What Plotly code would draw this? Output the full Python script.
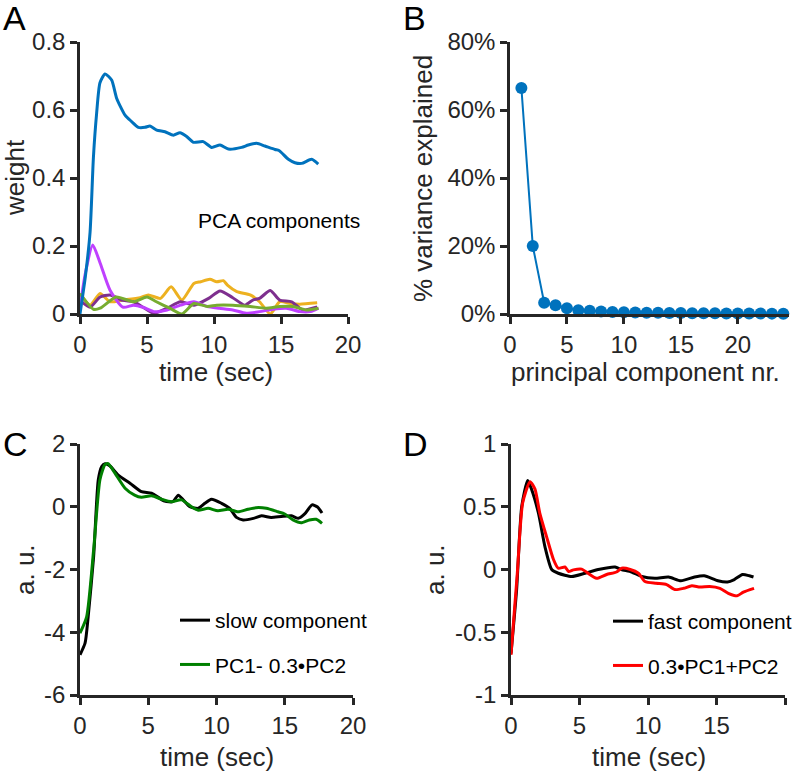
import plotly.graph_objects as go

# ---------------- Panel A: PCA component weights ----------------
a_t_blue = [0, 0.4, 0.75, 1.0, 1.24, 1.49, 1.87, 2.36, 2.74, 3.36, 3.85, 4.35, 4.85, 5.22, 5.72, 6.34,
            6.97, 7.46, 7.96, 8.46, 9.2, 9.83, 10.45, 11.07, 12.06, 12.56, 13.18, 13.8, 14.55, 14.85,
            15.55, 16.04, 16.54, 17.29, 17.78]
a_w_blue = [0, 0.11, 0.24, 0.46, 0.59, 0.68, 0.706, 0.688, 0.634, 0.585, 0.566, 0.549, 0.549, 0.553, 0.541, 0.536,
            0.526, 0.533, 0.522, 0.505, 0.507, 0.49, 0.497, 0.485, 0.49, 0.497, 0.502, 0.494, 0.484, 0.481,
            0.455, 0.445, 0.443, 0.455, 0.441]

a_t_mag = [0, 0.4, 0.95, 1.5, 2.24, 3.2, 4.0, 4.7, 5.5, 6.5, 7.5, 8.5, 9.5, 10.4, 11.4, 12.4, 13.4, 14.4, 15.4, 16.4, 17.2, 17.8]
a_w_mag = [0.02, 0.12, 0.203, 0.15, 0.07, 0.02, 0.026, 0.02, 0.007, 0.012, 0.026, 0.036, 0.022, 0.017, 0.012, 0.002,
           0.007, 0.014, 0.017, 0.007, 0.007, 0.017]

a_t_orange = [0, 0.75, 1.5, 2.24, 3.2, 4.5, 5.1, 6.0, 6.8, 7.6, 8.5, 9.0, 9.7, 10.2, 10.7, 11.0, 11.7, 12.7, 13.4,
              14.2, 14.9, 15.7, 16.4, 17.7]
a_w_orange = [0.06, 0.026, 0.06, 0.036, 0.041, 0.048, 0.056, 0.046, 0.08, 0.041, 0.09, 0.095, 0.102, 0.095, 0.098,
              0.085, 0.066, 0.056, 0.036, 0.0, 0.036, 0.031, 0.029, 0.033]

a_t_purple = [0, 0.75, 1.5, 2.24, 3.2, 4.0, 4.7, 5.5, 6.5, 7.5, 8.5, 9.6, 10.45, 11.4, 12.3, 12.9, 13.4, 14.2, 14.9,
              15.8, 16.6, 17.7]
a_w_purple = [0.04, 0.02, 0.05, 0.056, 0.04, 0.036, 0.02, 0.002, 0.017, 0.036, 0.026, 0.046, 0.068, 0.048, 0.026,
              0.041, 0.046, 0.069, 0.041, 0.036, 0.012, 0.021]

a_t_green = [0, 1.0, 1.5, 2.7, 4.0, 5.0, 5.7, 6.7, 7.6, 8.5, 9.5, 10.2, 11.4, 12.7, 13.9, 14.9, 15.9, 16.9, 17.8]
a_w_green = [0.06, 0.014, 0.017, 0.05, 0.036, 0.05, 0.036, 0.017, 0.0, 0.031, 0.022, 0.026, 0.026, 0.022, 0.017,
             0.022, 0.022, 0.012, 0.017]

# ---------------- Panel B: variance explained ----------------
b_component = list(range(1, 25))
b_variance = [66.5, 20.0, 3.3, 2.6, 1.7, 1.1, 0.95, 0.75, 0.6, 0.5, 0.45, 0.4, 0.35, 0.3, 0.28, 0.25,
              0.22, 0.2, 0.18, 0.16, 0.14, 0.12, 0.11, 0.1]

# ---------------- Panel C: slow component ----------------
c_t_slow = [0, 0.37, 0.6, 1.0, 1.34, 1.6, 1.83, 2.2, 2.8, 3.66, 4.5, 5.24, 6.2, 6.8, 7.2, 7.56, 8.05, 8.66, 9.15,
            9.63, 10.37, 10.97, 11.46, 11.95, 12.7, 13.3, 14.0, 14.75, 15.5, 16.0, 16.46, 17.0, 17.4, 17.73]
c_v_slow = [-4.72, -4.35, -3.5, -1.58, 0.86, 1.29, 1.37, 1.3, 1.01, 0.75, 0.48, 0.43, 0.18, 0.16, 0.37, 0.22, 0.0,
            -0.05, 0.11, 0.24, 0.11, -0.05, -0.34, -0.42, -0.37, -0.29, -0.34, -0.31, -0.29, -0.37, -0.23, 0.06,
            -0.01, -0.2]
c_t_fit = [0, 0.49, 1.0, 1.46, 1.83, 2.07, 2.56, 3.3, 4.0, 4.5, 5.24, 5.97, 6.7, 7.44, 8.17, 8.66, 9.39, 10.1,
           10.85, 11.58, 12.3, 12.9, 13.65, 14.5, 15.0, 15.6, 16.2, 16.8, 17.3, 17.73]
c_v_fit = [-4.03, -3.5, -1.37, 0.86, 1.34, 1.37, 1.07, 0.59, 0.37, 0.3, 0.35, 0.24, 0.16, 0.22, 0.0, -0.11, -0.05,
           -0.13, -0.08, -0.16, -0.08, -0.03, -0.05, -0.16, -0.23, -0.42, -0.51, -0.42, -0.4, -0.53]

# ---------------- Panel D: fast component ----------------
d_t_fast = [0, 0.41, 0.78, 1.22, 1.5, 2.0, 2.48, 2.97, 3.45, 4.43, 5.4, 6.37, 7.6, 8.05, 8.8, 9.54, 10.5, 11.5,
            12.4, 13.4, 14.1, 15.1, 15.8, 16.3, 16.9, 17.4, 17.7]
d_v_fast = [-0.67, -0.16, 0.5, 0.71, 0.64, 0.45, 0.18, 0.0, -0.03, -0.056, -0.03, 0.0, 0.02, 0.0, -0.02, -0.056,
            -0.07, -0.06, -0.09, -0.06, -0.05, -0.09, -0.1, -0.08, -0.04, -0.05, -0.06]
d_t_fit = [0, 0.46, 0.85, 1.39, 1.75, 2.1, 2.6, 3.1, 3.45, 3.94, 4.2, 4.55, 5.16, 5.5, 6.25, 6.98, 7.7, 8.08, 8.7,
           9.3, 9.78, 10.6, 11.36, 11.97, 12.6, 13.2, 13.8, 14.5, 15.25, 15.86, 16.5, 16.96, 17.74]
d_v_fit = [-0.68, -0.03, 0.53, 0.7, 0.64, 0.45, 0.26, 0.08, 0.01, 0.02, -0.016, -0.003, 0.003, -0.02, -0.07, -0.04,
           -0.02, 0.01, 0.0, -0.03, -0.096, -0.11, -0.12, -0.16, -0.15, -0.13, -0.14, -0.135, -0.15, -0.19, -0.21,
           -0.18, -0.15]

# tick labels
x_ticks = [0, 5, 10, 15, 20]
x_ticktext = ["0", "5", "10", "15", "20"]
a_yticks = [0, 0.2, 0.4, 0.6, 0.8]
a_yticktext = ["0", "0.2", "0.4", "0.6", "0.8"]
b_yticks = [0, 20, 40, 60, 80]
b_yticktext = ["0%", "20%", "40%", "60%", "80%"]
c_yticks = [-6, -4, -2, 0, 2]
c_yticktext = ["-6", "-4", "-2", "0", "2"]
d_yticks = [-1, -0.5, 0, 0.5, 1]
d_yticktext = ["-1", "-0.5", "0", "0.5", "1"]

FONT = "Liberation Sans, Arial, Helvetica, sans-serif"
AX = "#262626"
W, H = 798, 772


def px_x(p):
    return p / W


def px_y(p):
    return 1 - p / H


fig = go.Figure()
sm = 0.6
# Panel A
for t, w, col in [(a_t_orange, a_w_orange, "#EDB120"), (a_t_purple, a_w_purple, "#7E2F8E"),
                  (a_t_mag, a_w_mag, "#BF40FF"), (a_t_green, a_w_green, "#77AC30"),
                  (a_t_blue, a_w_blue, "#0072BD")]:
    fig.add_trace(go.Scatter(x=t, y=w, mode="lines", line=dict(color=col, width=3, shape="spline", smoothing=sm),
                             xaxis="x", yaxis="y", showlegend=False, hoverinfo="skip"))

# Panel B
fig.add_trace(go.Scatter(x=b_component, y=b_variance, mode="lines+markers",
                         line=dict(color="#0072BD", width=2),
                         marker=dict(color="#0072BD", size=12), cliponaxis=False,
                         xaxis="x2", yaxis="y2", showlegend=False))

# Panel C
fig.add_trace(go.Scatter(x=c_t_slow, y=c_v_slow, mode="lines", name="slow component",
                         line=dict(color="black", width=3, shape="spline", smoothing=sm),
                         xaxis="x3", yaxis="y3", legend="legend", legendgroup="c1"))
fig.add_trace(go.Scatter(x=c_t_fit, y=c_v_fit, mode="lines", name="PC1- 0.3\u2022PC2",
                         line=dict(color="#008000", width=3, shape="spline", smoothing=sm),
                         xaxis="x3", yaxis="y3", legend="legend", legendgroup="c2"))

# Panel D
fig.add_trace(go.Scatter(x=d_t_fast, y=d_v_fast, mode="lines", name="fast component",
                         line=dict(color="black", width=3, shape="spline", smoothing=sm),
                         xaxis="x4", yaxis="y4", legend="legend2", legendgroup="d1"))
fig.add_trace(go.Scatter(x=d_t_fit, y=d_v_fit, mode="lines", name="0.3\u2022PC1+PC2",
                         line=dict(color="#FF0000", width=3, shape="spline", smoothing=sm),
                         xaxis="x4", yaxis="y4", legend="legend2", legendgroup="d2"))

tickfont = dict(family=FONT, size=24, color=AX)
TITLE_SIZE = 26


def axis(domain, rng, tickvals, ticktext, anchor):
    return dict(domain=domain, range=rng, tickvals=tickvals, ticktext=ticktext,
                showline=True, linecolor=AX, linewidth=2.5, ticks="outside", ticklen=7,
                tickwidth=2.5, tickcolor=AX, showgrid=False, zeroline=False, tickfont=tickfont,
                automargin=False, anchor=anchor, fixedrange=True)


def label(text, x, y, angle=0, size=TITLE_SIZE, color=AX, xanchor="center"):
    return dict(text=text, x=px_x(x), y=px_y(y), xref="paper", yref="paper", xanchor=xanchor,
                yanchor="middle", textangle=angle, showarrow=False,
                font=dict(family=FONT, size=size, color=color))


ya = [px_y(314), px_y(42)]
yc = [px_y(695), px_y(444)]
fig.update_layout(
    width=W, height=H, margin=dict(l=0, r=0, t=0, b=0, autoexpand=False),
    plot_bgcolor="white", paper_bgcolor="white",
    font=dict(family=FONT, color=AX),
    xaxis=axis([px_x(80), px_x(348)], [0, 20], x_ticks, x_ticktext, "y"),
    yaxis=axis(ya, [0, 0.8], a_yticks, a_yticktext, "x"),
    xaxis2=axis([px_x(510), px_x(789)], [0, 24.5], x_ticks, x_ticktext, "y2"),
    yaxis2=axis(ya, [0, 80], b_yticks, b_yticktext, "x2"),
    xaxis3=axis([px_x(80), px_x(353)], [0, 20], x_ticks, x_ticktext, "y3"),
    yaxis3=axis(yc, [-6, 2], c_yticks, c_yticktext, "x3"),
    xaxis4=axis([px_x(511), px_x(785)], [0, 20], x_ticks, x_ticktext, "y4"),
    yaxis4=axis(yc, [-1, 1], d_yticks, d_yticktext, "x4"),
    legend=dict(x=px_x(175), y=px_y(600), xanchor="left", yanchor="top", bgcolor="rgba(0,0,0,0)",
                font=dict(family=FONT, size=21, color="black"), itemwidth=30,
                traceorder="grouped", tracegroupgap=14),
    legend2=dict(x=px_x(608), y=px_y(601), xanchor="left", yanchor="top", bgcolor="rgba(0,0,0,0)",
                 font=dict(family=FONT, size=21, color="black"), itemwidth=30,
                 traceorder="grouped", tracegroupgap=14),
    annotations=[
        dict(text="PCA components", x=8.66, y=0.276, xref="x", yref="y", xanchor="left", yanchor="middle",
             showarrow=False, font=dict(family=FONT, size=21, color="black")),
        # axis titles
        label("time (sec)", 216, 372),
        label("weight", 15, 178, angle=-90),
        label("principal component nr.", 645, 372),
        label("% variance explained", 423, 179, angle=-90),
        label("time (sec)", 217, 757),
        label("a. u.", 25, 570, angle=-90),
        label("time (sec)", 649, 757),
        label("a. u.", 435, 570, angle=-90),
        # panel letters
        label("A", 1, 18, size=34, color="black", xanchor="left"),
        label("B", 401, 18, size=34, color="black", xanchor="left"),
        label("C", 1, 444, size=34, color="black", xanchor="left"),
        label("D", 401, 444, size=34, color="black", xanchor="left"),
    ],
)

fig.write_html("out.html", config={"displayModeBar": False},
               post_script="document.body.style.margin='0';document.body.style.overflow='hidden';")
